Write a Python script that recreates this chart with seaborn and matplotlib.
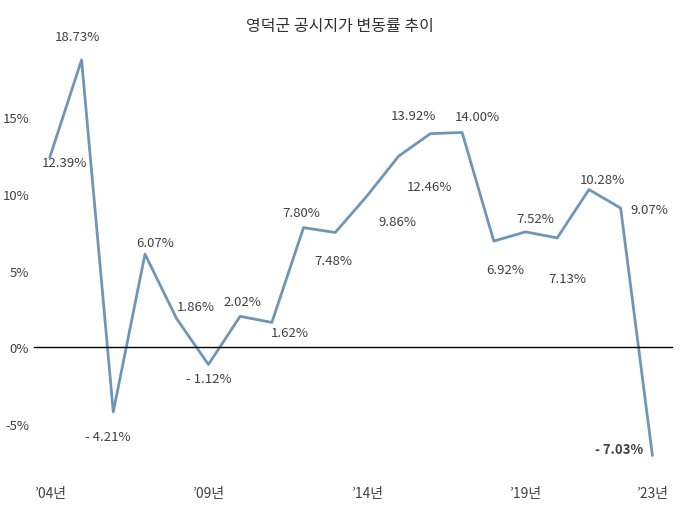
import matplotlib
matplotlib.use("Agg")
import matplotlib.pyplot as plt
import seaborn as sns
import pandas as pd

years = list(range(2004, 2024))
values = [12.39, 18.73, -4.21, 6.07, 1.86, -1.12, 2.02, 1.62, 7.80, 7.48,
          9.86, 12.46, 13.92, 14.00, 6.92, 7.52, 7.13, 10.28, 9.07, -7.03]
tick_years = [2004, 2009, 2014, 2019, 2023]
tick_labels = ["\u201904년", "\u201909년", "\u201914년", "\u201919년", "\u201923년"]
label_offsets = [(15, 5), (-4, -23), (-5, 25), (10, -12), (19, -12), (0, 14), (2, -15),
                 (18, 10), (-2, -15), (-2, 28), (30, 26), (31, 30), (-17, -18), (15, -16),
                 (11, 28), (10, -13), (10, 41), (13, -10), (29, 1), (-33, -6)]

cjk = ["Noto Sans CJK KR", "Noto Sans CJK JP", "Noto Sans CJK SC", "DejaVu Sans"]
plt.rcParams["font.family"] = cjk
fig = plt.figure(figsize=(6.8, 5.1), dpi=100)
ax = fig.add_axes([34/680, 1-470/510, 632/680, 430/510])
df = pd.DataFrame({"year": years, "value": values})
sns.lineplot(data=df, x="year", y="value", ax=ax, color="#6f96b8", linewidth=2)
ax.set_xlim(2003.5, 2023.43)
ax.set_ylim(-7.93, 20.09)
ax.axhline(0, color="black", linewidth=1, xmax=1.01, clip_on=False)
for s in ax.spines.values():
    s.set_visible(False)
ax.set_yticks([-5, 0, 5, 10, 15])
ax.set_yticklabels(["-5%", "0%", "5%", "10%", "15%"], fontsize=9.5, color="#404040")
ax.set_xticks(tick_years)
ax.set_xticklabels(tick_labels, fontsize=10, color="#404040")
ax.tick_params(length=0)
ax.tick_params(axis="x", pad=12)
ax.set_xlabel("")
ax.set_ylabel("")
for i, (x, v) in enumerate(zip(years, values)):
    txt = f"{v:.2f}%" if v >= 0 else f"- {abs(v):.2f}%"
    dx, dy = label_offsets[i]
    ax.annotate(txt, (x, v), xytext=(dx, -dy), textcoords="offset pixels",
                ha="center", va="center", fontsize=9.5, color="#404040",
                fontweight="bold" if i == len(values)-1 else "normal")
fig.text(340/680, 1-27/510, "영덕군 공시지가 변동률 추이", ha="center", va="center",
         fontsize=11.5, color="#303030", family=cjk)
fig.savefig("out.png", dpi=100)
